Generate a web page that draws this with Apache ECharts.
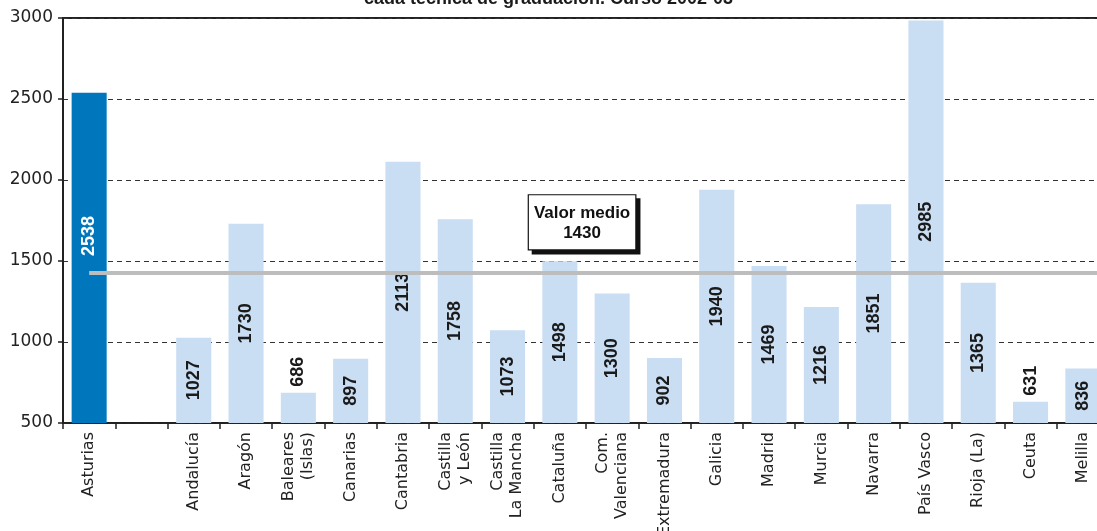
<!DOCTYPE html>
<html><head><meta charset="utf-8">
<script src="https://cdn.jsdelivr.net/npm/echarts@6/dist/echarts.min.js"></script>
<style>html,body{margin:0;padding:0;background:#fff}#c{width:1097px;height:531px}</style>
</head><body><div id="c"></div>
<script>
const titleText = 'cada técnica de graduación. Curso 2002-03';
const categories = ['Asturias','','Andalucía','Aragón','Baleares\n(Islas)','Canarias','Cantabria','Castilla\ny León','Castilla\nLa Mancha','Cataluña','Com.\nValenciana','Extremadura','Galicia','Madrid','Murcia','Navarra','País Vasco','Rioja (La)','Ceuta','Melilla'];
const values = [2538,null,1027,1730,686,897,2113,1758,1073,1498,1300,902,1940,1469,1216,1851,2985,1365,631,836];
const highlighted = ['Asturias'];
const meanValue = 1430;
const meanLabel = 'Valor medio';
const yMin = 500, yMax = 3000, yStep = 500;

const FONT = 'Liberation Sans';
const AXFONT = 'DejaVu Sans';
const data = values.map((v, i) => {
  if (v === null) return null;
  const hi = highlighted.includes(categories[i]);
  const small = v < 700;
  return {
    value: v,
    itemStyle: { color: hi ? '#0077BD' : '#C9DDF3' },
    label: small ? {
      position: 'top', align: 'left', verticalAlign: 'middle', distance: 6
    } : {
      position: 'inside', align: 'center', verticalAlign: 'middle',
      color: hi ? '#ffffff' : '#1a1a1a',
      offset: hi ? [22, 0] : [0, 0]
    }
  };
});

const chart = echarts.init(document.getElementById('c'), null, { renderer: 'canvas' });
chart.setOption({
  animation: false,
  backgroundColor: '#ffffff',
  title: {
    text: titleText, left: 'center', top: -15,
    textStyle: { fontFamily: FONT, fontSize: 18, fontWeight: 'bold', color: '#1a1a1a' }
  },
  grid: { left: 63, right: -12, top: 18, bottom: 108, outerBoundsMode: 'none', containLabel: false, show: true, borderColor: '#222', borderWidth: 2, backgroundColor: 'transparent' },
  xAxis: {
    type: 'category', data: categories, boundaryGap: true,
    axisLine: { lineStyle: { color: '#222', width: 1.5 } },
    axisTick: { show: true, length: 6, interval: 0, lineStyle: { color: '#222', width: 1.5 } },
    axisLabel: { interval: 0, rotate: 90, margin: 9, fontFamily: AXFONT, fontSize: 16, color: '#222', lineHeight: 19 }
  },
  yAxis: {
    type: 'value', min: yMin, max: yMax, interval: yStep,
    axisLine: { show: true, lineStyle: { color: '#222', width: 1.5 } },
    axisTick: { show: true, length: 5, lineStyle: { color: '#222', width: 1.5 } },
    axisLabel: { margin: 10, fontFamily: AXFONT, fontSize: 17, color: '#222', formatter: v => String(v) },
    splitLine: { show: true, lineStyle: { color: '#333', width: 1.2, type: [5, 4] } }
  },
  series: [{
    type: 'bar', data: data, barWidth: '67%',
    label: {
      show: true, rotate: 90, fontFamily: FONT, fontSize: 18, fontWeight: 'bold', color: '#1a1a1a'
    },
    markLine: {
      silent: true, symbol: ['none', 'none'],
      lineStyle: { color: '#BDBDBD', width: 4, type: 'solid' },
      label: {
        show: true, position: 'middle', distance: 23, offset: [-11, 0],
        formatter: meanLabel + '\n' + meanValue,
        fontFamily: FONT, fontSize: 17, fontWeight: 'bold', color: '#111', lineHeight: 20,
        backgroundColor: '#fff', borderColor: '#111', borderWidth: 1.2,
        padding: [8, 5, 6, 5],
        shadowColor: '#111', shadowOffsetX: 4, shadowOffsetY: 4, shadowBlur: 0
      },
      data: [[{ coord: [categories[0], meanValue] }, { coord: [categories[categories.length - 1], meanValue], x: '100%' }]]
    }
  }]
});
</script></body></html>
